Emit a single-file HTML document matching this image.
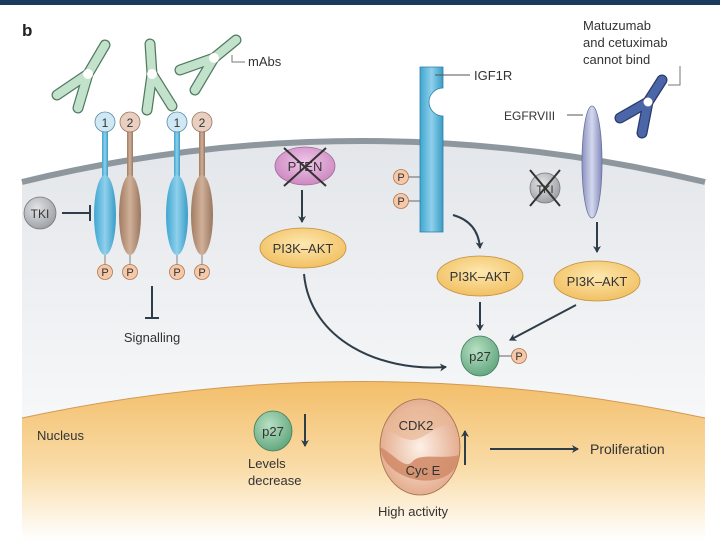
<!DOCTYPE html>
<html><head><meta charset="utf-8"><style>
html,body{margin:0;padding:0;background:#fff}
svg{display:block}
text{font-family:"Liberation Sans",sans-serif;fill:#333}
</style></head><body>
<svg width="720" height="540" viewBox="0 0 720 540" xmlns="http://www.w3.org/2000/svg">
<defs>
<linearGradient id="cyto" x1="0" y1="0" x2="0" y2="1"><stop offset="0" stop-color="#e3e6ea"/><stop offset="1" stop-color="#ffffff"/></linearGradient>
<linearGradient id="nuc" x1="0" y1="0" x2="0" y2="1"><stop offset="0" stop-color="#f3be6a"/><stop offset="0.55" stop-color="#f9dca8"/><stop offset="1" stop-color="#ffffff"/></linearGradient>
<radialGradient id="pi3k" cx="0.5" cy="0.4" r="0.6"><stop offset="0" stop-color="#fde8b0"/><stop offset="1" stop-color="#f2c062"/></radialGradient>
<radialGradient id="grn" cx="0.4" cy="0.35" r="0.7"><stop offset="0" stop-color="#b8e0c4"/><stop offset="1" stop-color="#5fa57c"/></radialGradient>
<radialGradient id="gry" cx="0.4" cy="0.35" r="0.7"><stop offset="0" stop-color="#e2e4e6"/><stop offset="1" stop-color="#9a9ea4"/></radialGradient>
<radialGradient id="pk" cx="0.5" cy="0.4" r="0.6"><stop offset="0" stop-color="#f0c6e8"/><stop offset="1" stop-color="#cc88c0"/></radialGradient>
<radialGradient id="cdk" cx="0.5" cy="0.5" r="0.6"><stop offset="0" stop-color="#fdf0e6"/><stop offset="1" stop-color="#e0a07e"/></radialGradient>
<linearGradient id="blu" x1="0" x2="1"><stop offset="0" stop-color="#3fa6d0"/><stop offset="0.5" stop-color="#8fd0ec"/><stop offset="1" stop-color="#3a9cc6"/></linearGradient>
<linearGradient id="brn" x1="0" x2="1"><stop offset="0" stop-color="#a07c62"/><stop offset="0.5" stop-color="#d0b098"/><stop offset="1" stop-color="#9a7660"/></linearGradient>
<linearGradient id="egf" x1="0" x2="1"><stop offset="0" stop-color="#8a92c0"/><stop offset="0.5" stop-color="#d4d8ee"/><stop offset="1" stop-color="#8088b8"/></linearGradient>
<marker id="ar" markerWidth="8" markerHeight="8" refX="6" refY="4" orient="auto" markerUnits="userSpaceOnUse"><path d="M0,0 L7,4 L0,8 L2,4Z" fill="#2e3d48"/></marker>
</defs>
<rect x="0" y="0" width="720" height="5" fill="#1b3a5e"/>
<path d="M22,182 Q360,100 705,182 L705,540 L22,540Z" fill="url(#cyto)"/>
<path d="M22,182 Q360,100 705,182" fill="none" stroke="#8e979e" stroke-width="6"/>
<path d="M22,418 Q360,345 705,418 L705,540 L22,540Z" fill="url(#nuc)"/>
<path d="M22,418 Q360,345 705,418" fill="none" stroke="#d39a50" stroke-width="1"/>
<text x="22" y="36" font-size="17" font-weight="bold" style="fill:#222">b</text>
<!-- green antibodies -->
<g fill="none" stroke-linecap="round">
<path d="M105,45 L88,74 M88,74 L57,95 M88,74 L78,108 M150,44 L152,74 M152,74 L147,110 M152,74 L172,106 M236,40 L214,58 M214,58 L180,70 M214,58 L195,90" stroke="#4f7a60" stroke-width="11"/>
<path d="M105,45 L88,74 M88,74 L57,95 M88,74 L78,108 M150,44 L152,74 M152,74 L147,110 M152,74 L172,106 M236,40 L214,58 M214,58 L180,70 M214,58 L195,90" stroke="#c2e2cb" stroke-width="8.5"/>
<circle cx="88" cy="74" r="5" fill="#fff" stroke="none"/><circle cx="152" cy="74" r="5" fill="#fff" stroke="none"/><circle cx="214" cy="58" r="5" fill="#fff" stroke="none"/>
</g>
<path d="M232,55 V62 H245" fill="none" stroke="#777"/>
<text x="248" y="66" font-size="13">mAbs</text>
<g stroke-width="0.8">
<g><rect x="102" y="130" width="6" height="55" fill="url(#blu)"/><circle cx="105" cy="122" r="10" fill="#cfe8f4" stroke="#5a8ca8"/><text x="105" y="127" font-size="12" text-anchor="middle">1</text><ellipse cx="105" cy="215" rx="11" ry="40" fill="url(#blu)"/><line x1="105" y1="255" x2="105" y2="265" stroke="#666"/><circle cx="105" cy="272" r="7.5" fill="#f4c8a8" stroke="#b07850"/><text x="105" y="276" font-size="11" text-anchor="middle">P</text></g>
<g><rect x="127" y="130" width="6" height="55" fill="url(#brn)"/><circle cx="130" cy="122" r="10" fill="#e8cfc0" stroke="#9a7660"/><text x="130" y="127" font-size="12" text-anchor="middle">2</text><ellipse cx="130" cy="215" rx="11" ry="40" fill="url(#brn)"/><line x1="130" y1="255" x2="130" y2="265" stroke="#666"/><circle cx="130" cy="272" r="7.5" fill="#f4c8a8" stroke="#b07850"/><text x="130" y="276" font-size="11" text-anchor="middle">P</text></g>
<g><rect x="174" y="130" width="6" height="55" fill="url(#blu)"/><circle cx="177" cy="122" r="10" fill="#cfe8f4" stroke="#5a8ca8"/><text x="177" y="127" font-size="12" text-anchor="middle">1</text><ellipse cx="177" cy="215" rx="11" ry="40" fill="url(#blu)"/><line x1="177" y1="255" x2="177" y2="265" stroke="#666"/><circle cx="177" cy="272" r="7.5" fill="#f4c8a8" stroke="#b07850"/><text x="177" y="276" font-size="11" text-anchor="middle">P</text></g>
<g><rect x="199" y="130" width="6" height="55" fill="url(#brn)"/><circle cx="202" cy="122" r="10" fill="#e8cfc0" stroke="#9a7660"/><text x="202" y="127" font-size="12" text-anchor="middle">2</text><ellipse cx="202" cy="215" rx="11" ry="40" fill="url(#brn)"/><line x1="202" y1="255" x2="202" y2="265" stroke="#666"/><circle cx="202" cy="272" r="7.5" fill="#f4c8a8" stroke="#b07850"/><text x="202" y="276" font-size="11" text-anchor="middle">P</text></g>
</g>
<circle cx="40" cy="213" r="16" fill="url(#gry)" stroke="#777" stroke-width="0.8"/>
<text x="40" y="218" font-size="12" text-anchor="middle">TKI</text>
<path d="M62,213 H90 M90,205 V221" stroke="#2e3d48" stroke-width="2" fill="none"/>
<path d="M152,286 V318 M145,318 H159" stroke="#2e3d48" stroke-width="2" fill="none"/>
<text x="152" y="342" font-size="13" text-anchor="middle">Signalling</text>
<ellipse cx="305" cy="166" rx="30" ry="19" fill="url(#pk)" stroke="#a06898" stroke-width="0.8"/>
<text x="305" y="171" font-size="13" text-anchor="middle">PTEN</text>
<path d="M284,148 L326,186 M326,148 L284,186" stroke="#333" stroke-width="2"/>
<line x1="302" y1="190" x2="302" y2="222" stroke="#2e3d48" stroke-width="2" marker-end="url(#ar)"/>
<ellipse cx="303" cy="248" rx="43" ry="20" fill="url(#pi3k)" stroke="#c09040" stroke-width="0.8"/>
<text x="303" y="253" font-size="13" text-anchor="middle">PI3K–AKT</text>
<path d="M304,274 C310,340 380,372 446,367" fill="none" stroke="#2e3d48" stroke-width="2" marker-end="url(#ar)"/>
<path d="M420,67 H443 V88 A14,14 0 0 0 443,116 V232 H420Z" fill="url(#blu)" stroke="#2f7ea6" stroke-width="0.8"/>
<path d="M435,75 H470" stroke="#555"/>
<text x="474" y="80" font-size="13">IGF1R</text>
<line x1="408" y1="177" x2="420" y2="177" stroke="#666"/><circle cx="401" cy="177" r="7.5" fill="#f4c8a8" stroke="#b07850" stroke-width="0.8"/><text x="401" y="181" font-size="11" text-anchor="middle">P</text>
<line x1="408" y1="201" x2="420" y2="201" stroke="#666"/><circle cx="401" cy="201" r="7.5" fill="#f4c8a8" stroke="#b07850" stroke-width="0.8"/><text x="401" y="205" font-size="11" text-anchor="middle">P</text>
<path d="M453,215 Q478,222 480,248" fill="none" stroke="#2e3d48" stroke-width="2" marker-end="url(#ar)"/>
<ellipse cx="480" cy="276" rx="43" ry="20" fill="url(#pi3k)" stroke="#c09040" stroke-width="0.8"/>
<text x="480" y="281" font-size="13" text-anchor="middle">PI3K–AKT</text>
<line x1="480" y1="302" x2="480" y2="330" stroke="#2e3d48" stroke-width="2" marker-end="url(#ar)"/>
<ellipse cx="480" cy="356" rx="19" ry="20" fill="url(#grn)" stroke="#3f7a58" stroke-width="0.8"/>
<text x="480" y="361" font-size="13" text-anchor="middle">p27</text>
<line x1="499" y1="356" x2="512" y2="356" stroke="#666"/>
<circle cx="519" cy="356" r="7.5" fill="#f4c8a8" stroke="#b07850" stroke-width="0.8"/><text x="519" y="360" font-size="11" text-anchor="middle">P</text>
<ellipse cx="592" cy="162" rx="10" ry="56" fill="url(#egf)" stroke="#6a72a0" stroke-width="0.8"/>
<path d="M567,115 H583" stroke="#555"/>
<text x="504" y="120" font-size="12">EGFRVIII</text>
<!-- blue antibody -->
<g fill="none" stroke-linecap="round">
<path d="M662,80 L648,102 M648,102 L620,118 M648,102 L642,133" stroke="#2a3a68" stroke-width="11"/>
<path d="M662,80 L648,102 M648,102 L620,118 M648,102 L642,133" stroke="#4a66a8" stroke-width="8.5"/>
<circle cx="648" cy="102" r="4.5" fill="#fff" stroke="none"/>
</g>
<text x="583" y="30" font-size="13">Matuzumab</text>
<text x="583" y="47" font-size="13">and cetuximab</text>
<text x="583" y="64" font-size="13">cannot bind</text>
<path d="M680,66 V85 H668" fill="none" stroke="#777"/>
<circle cx="545" cy="188" r="15" fill="url(#gry)" stroke="#777" stroke-width="0.8"/>
<text x="545" y="193" font-size="11" text-anchor="middle">TKI</text>
<path d="M530,170 L560,206 M560,170 L530,206" stroke="#333" stroke-width="2"/>
<line x1="597" y1="222" x2="597" y2="252" stroke="#2e3d48" stroke-width="2" marker-end="url(#ar)"/>
<ellipse cx="597" cy="281" rx="43" ry="20" fill="url(#pi3k)" stroke="#c09040" stroke-width="0.8"/>
<text x="597" y="286" font-size="13" text-anchor="middle">PI3K–AKT</text>
<line x1="576" y1="305" x2="510" y2="340" stroke="#2e3d48" stroke-width="2" marker-end="url(#ar)"/>
<text x="37" y="440" font-size="13">Nucleus</text>
<ellipse cx="273" cy="431" rx="19" ry="20" fill="url(#grn)" stroke="#3f7a58" stroke-width="0.8"/>
<text x="273" y="436" font-size="13" text-anchor="middle">p27</text>
<line x1="305" y1="414" x2="305" y2="446" stroke="#2e3d48" stroke-width="2" marker-end="url(#ar)"/>
<text x="248" y="468" font-size="13">Levels</text>
<text x="248" y="485" font-size="13">decrease</text>
<ellipse cx="420" cy="447" rx="40" ry="48" fill="url(#cdk)" stroke="#a07050" stroke-width="0.8"/>
<path d="M380,447 C385,485 455,495 460,455 C440,460 420,452 412,462 C405,470 395,455 380,447Z" fill="#d08a66" opacity="0.85"/>
<path d="M383,430 C390,405 445,400 455,425 C440,420 425,440 412,440 C400,440 390,428 383,430Z" fill="#e8b896" opacity="0.7"/>
<text x="416" y="430" font-size="13" text-anchor="middle">CDK2</text>
<text x="423" y="475" font-size="13" text-anchor="middle">Cyc E</text>
<line x1="465" y1="465" x2="465" y2="431" stroke="#2e3d48" stroke-width="2" marker-end="url(#ar)"/>
<line x1="490" y1="449" x2="578" y2="449" stroke="#2e3d48" stroke-width="2" marker-end="url(#ar)"/>
<text x="590" y="454" font-size="14">Proliferation</text>
<text x="413" y="516" font-size="13" text-anchor="middle">High activity</text>
</svg>
</body></html>
